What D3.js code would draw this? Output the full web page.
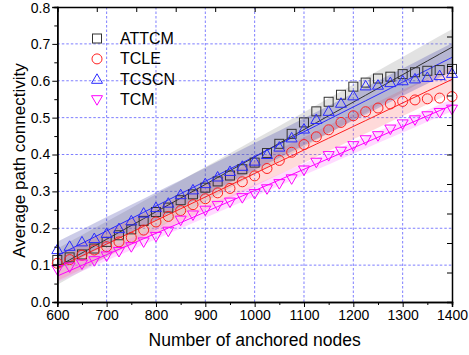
<!DOCTYPE html>
<html>
<head>
<meta charset="utf-8">
<script src="https://cdn.jsdelivr.net/npm/d3@7"></script>
<style>
  body { margin: 0; background: #fff; }
  text { font-family: "Liberation Sans", Arial, sans-serif; }
</style>
</head>
<body>
<svg id="chart" width="469" height="355"></svg>
<script>
// anchored nodes (x)
const nodes = [600, 625, 650, 675, 700, 725, 750, 775, 800, 825, 850, 875, 900, 925, 950, 975, 1000,
  1025, 1050, 1075, 1100, 1125, 1150, 1175, 1200, 1225, 1250, 1275, 1300, 1325, 1350, 1375, 1400];

const attcm = [0.114, 0.121, 0.129, 0.145, 0.163, 0.181, 0.197, 0.220, 0.244, 0.256, 0.276, 0.292, 0.310,
  0.327, 0.343, 0.360, 0.378, 0.404, 0.429, 0.456, 0.487, 0.517, 0.543, 0.562, 0.584, 0.595,
  0.606, 0.611, 0.618, 0.623, 0.627, 0.629, 0.632];
const tcle = [0.105, 0.115, 0.127, 0.141, 0.150, 0.163, 0.175, 0.195, 0.217, 0.232, 0.248, 0.264, 0.280,
  0.296, 0.308, 0.326, 0.342, 0.362, 0.384, 0.406, 0.427, 0.448, 0.467, 0.487, 0.505, 0.516,
  0.526, 0.537, 0.544, 0.548, 0.551, 0.553, 0.557];
const tcscn = [0.142, 0.151, 0.163, 0.172, 0.186, 0.199, 0.220, 0.241, 0.256, 0.268, 0.291, 0.304, 0.321,
  0.339, 0.354, 0.368, 0.382, 0.400, 0.420, 0.445, 0.469, 0.495, 0.517, 0.539, 0.559, 0.586,
  0.588, 0.595, 0.600, 0.605, 0.609, 0.614, 0.620];
const tcm = [0.088, 0.095, 0.103, 0.112, 0.125, 0.137, 0.150, 0.163, 0.178, 0.192, 0.222, 0.236, 0.249,
  0.262, 0.271, 0.283, 0.294, 0.307, 0.321, 0.334, 0.358, 0.379, 0.397, 0.409, 0.424, 0.440,
  0.451, 0.469, 0.483, 0.494, 0.505, 0.514, 0.523];

const seriesNames = ["ATTCM", "TCLE", "TCSCN", "TCM"];
const xTicks = [600, 700, 800, 900, 1000, 1100, 1200, 1300, 1400];
const yTicks = [0.0, 0.1, 0.2, 0.3, 0.4, 0.5, 0.6, 0.7, 0.8];

const series = [
  { name: seriesNames[0], values: attcm, color: "#333333", band: "#909090", shape: "square" },
  { name: seriesNames[1], values: tcle, color: "#ff2020", band: "#ff7070", shape: "circle" },
  { name: seriesNames[2], values: tcscn, color: "#2a2aff", band: "#3a3aa8", shape: "up" },
  { name: seriesNames[3], values: tcm, color: "#ff00ff", band: "#ff70ff", shape: "down" }
];

const svg = d3.select("#chart");
const pLeft = 57.3, pRight = 452, pTop = 7, pBottom = 302;

const x = d3.scaleLinear().domain([600, 1400]).range([pLeft, pRight]);
const y = d3.scaleLinear().domain([0, 0.8]).range([pBottom, pTop]);

// grid
const grid = svg.append("g");
grid.selectAll("line.vx").data(xTicks.slice(1, -1)).join("line")
  .attr("x1", d => x(d)).attr("x2", d => x(d))
  .attr("y1", pTop).attr("y2", pBottom)
  .attr("stroke", "#6f6fff").attr("stroke-width", 0.9).attr("stroke-dasharray", "2.5,2");
grid.selectAll("line.hy").data(yTicks.slice(1, -1)).join("line")
  .attr("x1", pLeft).attr("x2", pRight)
  .attr("y1", d => y(d)).attr("y2", d => y(d))
  .attr("stroke", "#6f6fff").attr("stroke-width", 0.9).attr("stroke-dasharray", "2.5,2");

// linear fit + 95% prediction band
function fit(vals) {
  const n = vals.length;
  const mx = d3.mean(nodes), my = d3.mean(vals);
  let sxx = 0, sxy = 0;
  nodes.forEach((xv, i) => { sxx += (xv - mx) ** 2; sxy += (xv - mx) * (vals[i] - my); });
  const b = sxy / sxx, a = my - b * mx;
  let sse = 0;
  nodes.forEach((xv, i) => { sse += (vals[i] - (a + b * xv)) ** 2; });
  const s = Math.sqrt(sse / (n - 2));
  const t = 2.04;
  return nodes.map(xv => {
    const yh = a + b * xv;
    const h = t * s * Math.sqrt(1 + 1 / n + (xv - mx) ** 2 / sxx);
    return { x: xv, y: yh, lo: yh - h, hi: yh + h };
  });
}

const plot = svg.append("g");
const fits = series.map(s => fit(s.values));

const area = d3.area().x(d => x(d.x)).y0(d => y(d.lo)).y1(d => y(d.hi));
const line = d3.line().x(d => x(d.x)).y(d => y(d.y));

series.forEach((s, i) => {
  plot.append("path").datum(fits[i]).attr("d", area)
    .attr("fill", s.band).attr("fill-opacity", 0.26).attr("stroke", "none");
});
series.forEach((s, i) => {
  plot.append("path").datum(fits[i]).attr("d", line)
    .attr("fill", "none").attr("stroke", s.color).attr("stroke-width", 1);
});

function drawMarker(g, shape, color) {
  if (shape === "square") {
    g.append("rect").attr("x", -4.5).attr("y", -4.5).attr("width", 9).attr("height", 9)
      .attr("fill", "none").attr("stroke", color).attr("stroke-width", 1);
  } else if (shape === "circle") {
    g.append("circle").attr("r", 5).attr("fill", "none").attr("stroke", color).attr("stroke-width", 1);
  } else if (shape === "up") {
    g.append("path").attr("d", "M0,-5.5L5.5,4L-5.5,4Z")
      .attr("fill", "none").attr("stroke", color).attr("stroke-width", 1);
  } else {
    g.append("path").attr("d", "M0,5.5L5.5,-4L-5.5,-4Z")
      .attr("fill", "none").attr("stroke", color).attr("stroke-width", 1);
  }
}

series.forEach(s => {
  s.values.forEach((v, i) => {
    const g = plot.append("g").attr("transform", `translate(${x(nodes[i])},${y(v)})`);
    drawMarker(g, s.shape, s.color);
  });
});

// axes
const fontSize = "14px";
const xAxis = svg.append("g").attr("transform", `translate(0,${pBottom})`)
  .call(d3.axisBottom(x).tickValues(xTicks).tickSize(5).tickPadding(3).tickFormat(d3.format("d")));
const xMinor = svg.append("g").attr("transform", `translate(0,${pBottom})`)
  .call(d3.axisBottom(x).tickValues(xTicks.slice(0, -1).map(d => d + 50)).tickSize(3).tickFormat(""));
const yAxis = svg.append("g").attr("transform", `translate(${pLeft},0)`)
  .call(d3.axisLeft(y).tickValues(yTicks).tickSize(5).tickPadding(2).tickFormat(d3.format(".1f")));
const yMinor = svg.append("g").attr("transform", `translate(${pLeft},0)`)
  .call(d3.axisLeft(y).tickValues(yTicks.slice(0, -1).map(d => d + 0.05)).tickSize(3).tickFormat(""));

// top and right frame with 10 inward ticks
const topScale = d3.scaleLinear().domain([0, 10]).range([pLeft, pRight]);
const rightScale = d3.scaleLinear().domain([0, 10]).range([pBottom, pTop]);
const topAxis = svg.append("g").attr("transform", `translate(0,${pTop})`)
  .call(d3.axisTop(topScale).tickValues(d3.range(0, 11)).tickSize(-5).tickFormat(""));
const rightAxis = svg.append("g").attr("transform", `translate(${pRight},0)`)
  .call(d3.axisRight(rightScale).tickValues(d3.range(0, 11)).tickSize(-5).tickFormat(""));

[xAxis, xMinor, yAxis, yMinor, topAxis, rightAxis].forEach(a => {
  a.select(".domain").attr("stroke", "#000").attr("stroke-width", 1.5);
  a.selectAll(".tick line").attr("stroke", "#000").attr("stroke-width", 1);
  a.selectAll("text").style("font-size", fontSize).attr("fill", "#000")
    .style("font-family", "'Liberation Sans', Arial, sans-serif");
});
// keep the top label inside the picture
yAxis.selectAll(".tick text").filter(d => d === 0.8).attr("dy", "0.42em");

// axis titles
svg.append("text").attr("x", (pLeft + pRight) / 2).attr("y", 346)
  .attr("text-anchor", "middle").style("font-size", "17.5px").text("Number of anchored nodes");
svg.append("text").attr("transform", `translate(25,${(pTop + pBottom) / 2 + 6}) rotate(-90)`)
  .attr("text-anchor", "middle").style("font-size", "17px").text("Average path connectivity");

// legend
const legend = svg.append("g");
series.forEach((s, i) => {
  const ly = 38.5 + i * 20.4;
  const g = legend.append("g").attr("transform", `translate(97,${ly})`);
  drawMarker(g, s.shape, s.color);
  legend.append("text").attr("x", 120).attr("y", ly + 5.5)
    .style("font-size", "16px").attr("fill", "#000").text(s.name);
});
</script>
</body>
</html>
